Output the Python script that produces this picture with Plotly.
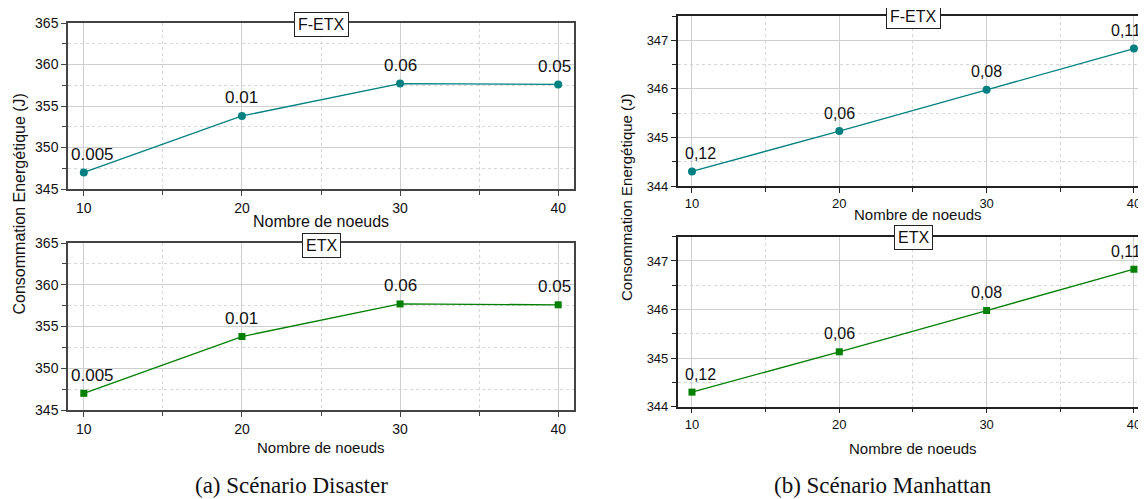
import plotly.graph_objects as go

nodes = [10, 20, 30, 40]
disaster_fetx = [347.0, 353.8, 357.7, 357.6]
disaster_etx = [347.0, 353.8, 357.7, 357.6]
disaster_labels = ["0.005", "0.01", "0.06", "0.05"]
manhattan_fetx = [344.3, 345.13, 345.98, 346.83]
manhattan_etx = [344.3, 345.13, 345.98, 346.83]
manhattan_labels = ["0,12", "0,06", "0,08", "0,11"]

OFF = 8  # page body margin
W, H = 1146 - OFF, 499 - OFF
FONT = "Liberation Sans, Arial, sans-serif"
TEAL = "#008080"
GREEN = "#008000"


def px(x):
    return (x - OFF) / W


def py(y):
    return 1 - (y - OFF) / H


fig = go.Figure()

panels = [
    dict(n=1, y=disaster_fetx, lab=disaster_labels, color=TEAL, sym="circle", msize=8,
         xd=[px(68), px(574)], yd=[py(189), py(23)], xr=[9.0, 41.0], yr=[345, 365], dt=5,
         box="F-ETX", boxpos=(321, 24.5), lf=17, tf=14, lc="#444", mirror_y=True, lastshift=-4),
    dict(n=2, y=disaster_etx, lab=disaster_labels, color=GREEN, sym="square", msize=7,
         xd=[px(68), px(574)], yd=[py(410), py(243)], xr=[9.0, 41.0], yr=[345, 365], dt=5,
         box="ETX", boxpos=(321, 245), lf=17, tf=14, lc="#444", mirror_y=True, lastshift=-4),
    dict(n=3, y=manhattan_fetx, lab=manhattan_labels, color=TEAL, sym="circle", msize=8,
         xd=[px(677.7), 1.0], yd=[py(186), py(16)], xr=[9.03, 40.82], yr=[344, 347.5], dt=1,
         box="F-ETX", boxpos=(913, 17), lf=16, tf=13, lc="#222", mirror_y=False, lastshift=-8),
    dict(n=4, y=manhattan_etx, lab=manhattan_labels, color=GREEN, sym="square", msize=7,
         xd=[px(677.7), 1.0], yd=[py(406.7), py(236.7)], xr=[9.03, 40.82], yr=[344, 347.5], dt=1,
         box="ETX", boxpos=(913, 237.5), lf=16, tf=13, lc="#222", mirror_y=False, lastshift=-8),
]

annotations = []
layout_axes = {}
for p in panels:
    n = p["n"]
    xa = "x" if n == 1 else f"x{n}"
    ya = "y" if n == 1 else f"y{n}"
    fig.add_trace(go.Scatter(
        x=nodes, y=p["y"], mode="lines+markers", xaxis=xa, yaxis=ya,
        line=dict(color=p["color"], width=1.3),
        marker=dict(color=p["color"], symbol=p["sym"], size=p["msize"]),
        showlegend=False, cliponaxis=False,
    ))
    for i, (xv, yv, t) in enumerate(zip(nodes, p["y"], p["lab"])):
        annotations.append(dict(
            x=xv, y=yv, xref=xa, yref=ya, text=t, showarrow=False,
            xanchor="center", yanchor="middle",
            font=dict(family=FONT, size=p["lf"], color="#111"),
            yshift=18, xshift=(9 if i == 0 else (p["lastshift"] if i == 3 else 0)),
        ))
    grid = dict(showgrid=True, gridcolor="#cfcfcf", gridwidth=1)
    minor = dict(showgrid=True, gridcolor="#d6d6d6", griddash="dot", gridwidth=1,
                 ticks="outside", ticklen=4, tickcolor=p["lc"])
    xkey = "xaxis" if n == 1 else f"xaxis{n}"
    ykey = "yaxis" if n == 1 else f"yaxis{n}"
    layout_axes[xkey] = dict(
        domain=p["xd"], range=p["xr"], anchor=ya, tickmode="array", tickvals=nodes,
        ticks="outside", ticklen=5, tickcolor=p["lc"], automargin=False,
        showline=True, linecolor=p["lc"], linewidth=1.5, mirror=True,
        tickfont=dict(family=FONT, size=p["tf"], color="#111"),
        minor=dict(minor, dtick=5, tick0=5), zeroline=False, **grid,
    )
    layout_axes[ykey] = dict(
        domain=p["yd"], range=p["yr"], anchor=xa, dtick=p["dt"], tick0=p["yr"][0],
        ticks="outside", ticklen=5, tickcolor=p["lc"], automargin=False,
        showline=True, linecolor=p["lc"], linewidth=1.5, mirror=p["mirror_y"],
        tickfont=dict(family=FONT, size=p["tf"], color="#111"),
        minor=dict(minor, dtick=p["dt"] / 2), zeroline=False, **grid,
    )
    bx, by = p["boxpos"]
    annotations.append(dict(
        x=px(bx), y=py(by), xref="paper", yref="paper", text=p["box"], showarrow=False,
        xanchor="center", yanchor="middle",
        font=dict(family=FONT, size=16, color="#111"), bgcolor="white",
        bordercolor="#222", borderwidth=1, borderpad=3,
    ))

# axis titles (as annotations)
for (x, y, s) in [(321, 221, 16), (321, 447, 15), (918, 214, 15), (913, 448, 15)]:
    annotations.append(dict(x=px(x), y=py(y), xref="paper", yref="paper",
                            text="Nombre de noeuds", showarrow=False,
                            xanchor="center", yanchor="middle",
                            font=dict(family=FONT, size=s, color="#111")))
for (x, y, s) in [(18.5, 204, 16), (626, 197, 15)]:
    annotations.append(dict(x=px(x), y=py(y), xref="paper", yref="paper",
                            text="Consommation Energétique (J)", textangle=-90,
                            xanchor="center", yanchor="middle",
                            showarrow=False, font=dict(family=FONT, size=s, color="#111")))
# captions
for (x, t) in [(291, "(a) Scénario Disaster"), (883, "(b) Scénario Manhattan")]:
    annotations.append(dict(x=px(x), y=py(485), xref="paper", yref="paper", text=t,
                            showarrow=False, xanchor="center", yanchor="middle",
                            font=dict(family="Liberation Serif, DejaVu Serif, serif", size=23, color="#111")))

fig.update_layout(
    width=W, height=H, margin=dict(l=0, r=0, t=0, b=0, autoexpand=False),
    paper_bgcolor="white", plot_bgcolor="white",
    annotations=annotations, **layout_axes,
)

fig.write_html("out.html")
